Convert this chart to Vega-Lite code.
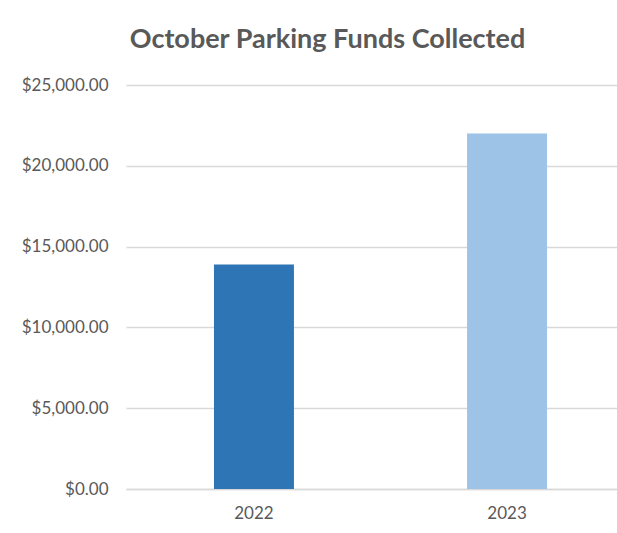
{
  "$schema": "https://vega.github.io/schema/vega-lite/v6.json",
  "autosize": {"type": "none"},
  "padding": {"left": 126, "top": 85, "right": 0, "bottom": 44},
  "width": 491,
  "height": 404,
  "background": "white",
  "title": {
    "text": "October Parking Funds Collected",
    "font": "Lato",
    "fontSize": 27,
    "fontWeight": "bold",
    "color": "#595959",
    "anchor": "middle",
    "dx": -44,
    "offset": 22
  },
  "data": {
    "values": [
      {"year": "2022", "funds": 13900},
      {"year": "2023", "funds": 22000}
    ]
  },
  "mark": {"type": "bar"},
  "encoding": {
    "x": {
      "field": "year",
      "type": "nominal",
      "scale": {"paddingInner": 0.684, "paddingOuter": 0.312, "align": 0.557},
      "axis": {
        "title": null,
        "labelAngle": 0,
        "labelFont": "Lato",
        "labelFontSize": 17,
        "labelColor": "#595959",
        "labelPadding": 16,
        "ticks": false,
        "domainColor": "#d9d9d9",
        "domainWidth": 1.5
      }
    },
    "y": {
      "field": "funds",
      "type": "quantitative",
      "scale": {"domain": [0, 25000], "nice": false},
      "axis": {
        "title": null,
        "values": [0, 5000, 10000, 15000, 20000, 25000],
        "format": "$,.2f",
        "labelFont": "Lato",
        "labelFontSize": 17,
        "labelColor": "#595959",
        "labelPadding": 18,
        "ticks": false,
        "domain": false,
        "gridColor": "#d9d9d9",
        "gridWidth": 1.5
      }
    },
    "color": {
      "field": "year",
      "type": "nominal",
      "scale": {"domain": ["2022", "2023"], "range": ["#2E75B6", "#9DC3E6"]},
      "legend": null
    }
  },
  "config": {"view": {"stroke": null}}
}
